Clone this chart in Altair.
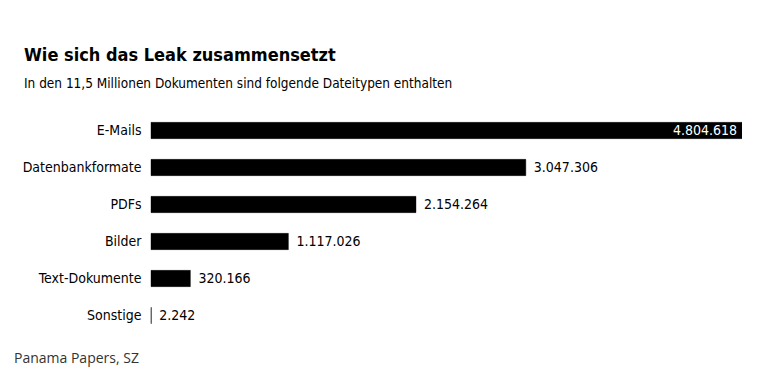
import altair as alt
import pandas as pd

categories = ["E-Mails", "Datenbankformate", "PDFs", "Bilder", "Text-Dokumente", "Sonstige"]
values = [4804618, 3047306, 2154264, 1117026, 320166, 2242]
value_labels = ["4.804.618", "3.047.306", "2.154.264", "1.117.026", "320.166", "2.242"]

df = pd.DataFrame({"cat": categories, "val": values, "lab": value_labels})

FONT = "Liberation Sans Narrow, DejaVu Sans Condensed, sans-serif"

y = alt.Y("cat:N", sort=categories, title=None,
          scale=alt.Scale(paddingInner=0.56, paddingOuter=0.28),
          axis=alt.Axis(domain=False, ticks=False, labelFont=FONT, labelFontSize=14,
                        labelColor="#000", labelPadding=10))
x = alt.X("val:Q", title=None, axis=None, scale=alt.Scale(domain=[0, 4804618], nice=False))

base = alt.Chart(df)
bars = base.mark_bar(color="#000", stroke="#000", strokeWidth=0.4).encode(x=x, y=y)
outside = base.transform_filter("datum.val < 4000000").mark_text(
    align="left", dx=8, font=FONT, fontSize=14, color="#000").encode(x=x, y=y, text="lab:N")
inside = base.transform_filter("datum.val >= 4000000").mark_text(
    align="right", dx=-5, font=FONT, fontSize=14, color="#fff").encode(x=x, y=y, text="lab:N")

source = alt.Chart(pd.DataFrame({"t": ["Panama Papers, SZ"]})).mark_text(
    align="left", baseline="alphabetic", font="Open Sans", fontSize=14, color="#333"
).encode(x=alt.value(-137), y=alt.value(251), text="t:N")

chart = alt.layer(bars, outside, inside, source).properties(
    width=591, height=222,
    title=alt.TitleParams(
        "Wie sich das Leak zusammensetzt",
        subtitle="In den 11,5 Millionen Dokumenten sind folgende Dateitypen enthalten",
        anchor="start", frame="group", dx=-127, font=FONT, fontSize=18, fontWeight="bold", color="#000",
        subtitleFont=FONT, subtitleFontSize=13.5, subtitleColor="#000", subtitlePadding=12,
        offset=22),
    autosize=alt.AutoSizeParams(type="none"),
    padding={"left": 143, "top": 104, "right": 0, "bottom": 55},
).configure_view(stroke=None)

chart.save("out.html", embed_options={"renderer": "svg", "actions": False})
